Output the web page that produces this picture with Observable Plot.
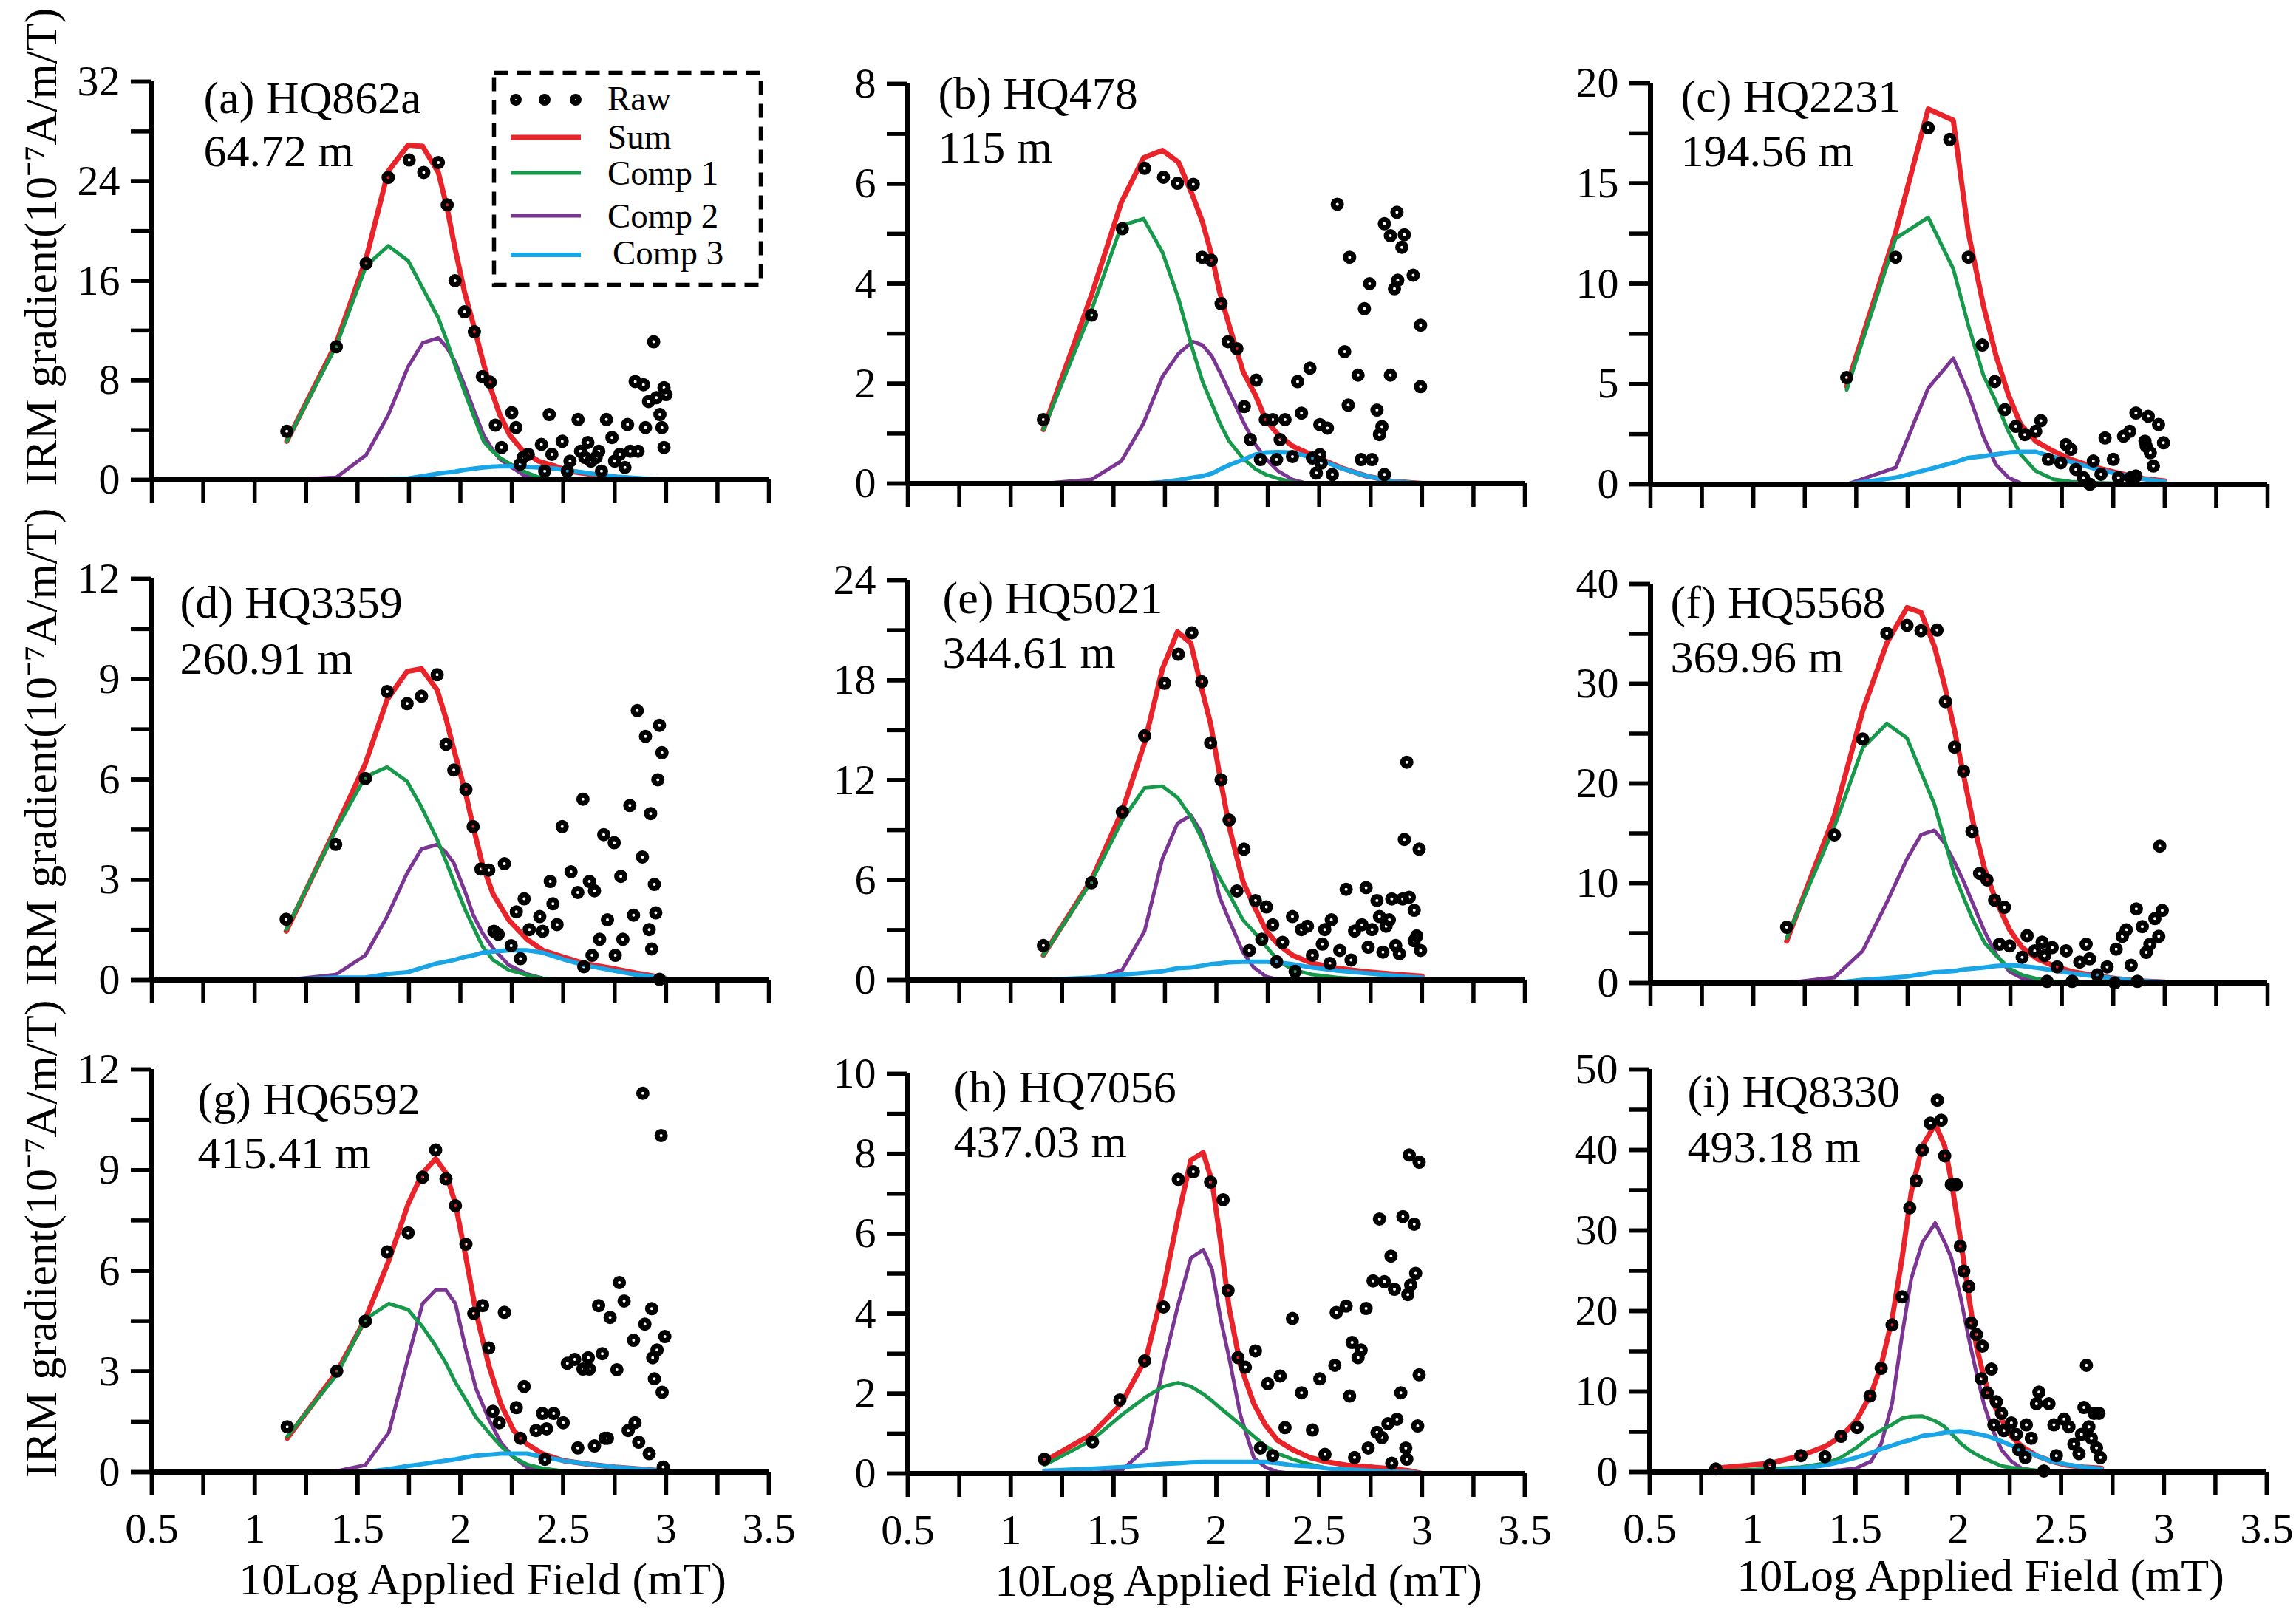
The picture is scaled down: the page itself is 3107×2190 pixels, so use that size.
<!DOCTYPE html>
<html><head><meta charset="utf-8">
<script src="https://cdn.jsdelivr.net/npm/d3@7"></script>
<script src="https://cdn.jsdelivr.net/npm/@observablehq/plot@0.6"></script>
<style>
html,body{margin:0;padding:0;background:#fff;}
#wrap{position:relative;width:3107px;height:2190px;overflow:hidden;background:#fff;}
#wrap > svg{position:absolute;}
</style></head><body><div id="wrap"></div>
<script>
// ---------- data (x = log10 field in mT, y = IRM gradient, 1e-7 A/m/T) ----------
const rawA = [[1.156,3.9],[1.397,10.7],[1.542,17.4],[1.649,24.3],[1.751,25.7],[1.822,24.7],[1.893,25.5],[1.936,22.1],[1.974,16.0],[2.020,13.5],[2.068,11.9],[2.107,8.3],[2.145,7.85],[2.17,4.4],[2.20,2.6],[2.25,5.4],[2.27,4.2],[2.29,1.25],[2.305,1.8],[2.33,2.05],[2.394,2.85],[2.41,0.7],[2.432,5.25],[2.445,2.05],[2.495,3.1],[2.52,0.7],[2.533,1.5],[2.572,4.85],[2.584,2.3],[2.605,1.8],[2.62,3.0],[2.635,1.5],[2.66,1.8],[2.673,2.3],[2.686,0.7],[2.71,4.85],[2.737,3.4],[2.75,1.5],[2.775,2.05],[2.80,1.0],[2.813,4.45],[2.826,2.3],[2.85,7.9],[2.864,2.3],[2.89,7.65],[2.90,4.2],[2.915,6.3],[2.94,11.1],[2.953,6.6],[2.97,5.25],[2.98,4.2],[2.99,7.4],[2.99,2.6],[3.0,6.85]];
const fitXA = [1.156,1.397,1.542,1.649,1.746,1.817,1.893,1.936,1.974,2.02,2.068,2.113,2.15,2.19,2.24,2.305,2.38,2.46,2.53,2.635,2.76,2.89,3.0];
const sumA = [3.1,11.0,17.8,24.8,26.9,26.8,24.7,21.8,18.6,15.1,12.2,9.3,7.2,5.3,3.6,2.3,1.5,1.1,0.7,0.45,0.2,0.05,0];
const c1A  = [3.1,10.8,17.2,18.8,17.6,15.4,13.0,11.1,9.2,7.1,5.0,3.1,2.4,1.8,1.3,0.7,0.2,0.05,0,0,0,0,0];
const c2A  = [0,0.2,2.0,5.2,9.1,11.0,11.4,10.6,9.5,7.6,5.5,3.6,2.6,1.7,1.1,0.4,0.05,0,0,0,0,0,0];
const c3A  = [0,0,0,0.05,0.1,0.3,0.5,0.6,0.65,0.8,0.9,1.0,1.05,1.08,1.1,1.05,1.0,0.9,0.75,0.5,0.25,0.1,0];

const rawB = [[1.159,1.28],[1.393,3.37],[1.543,5.10],[1.651,6.31],[1.743,6.13],[1.811,6.01],[1.888,5.99],[1.931,4.53],[1.975,4.47],[2.023,3.60],[2.057,2.84],[2.10,2.70],[2.194,2.07],[2.136,1.54],[2.165,0.88],[2.238,1.28],[2.274,1.28],[2.31,0.88],[2.334,1.28],[2.395,2.04],[2.414,1.41],[2.455,2.31],[2.503,1.18],[2.54,1.11],[2.588,5.59],[2.624,2.64],[2.648,4.53],[2.641,1.57],[2.689,2.17],[2.72,3.50],[2.745,4.00],[2.781,1.47],[2.793,0.98],[2.805,1.14],[2.817,5.20],[2.846,4.96],[2.846,2.17],[2.866,3.90],[2.878,5.43],[2.882,4.07],[2.902,4.73],[2.914,4.98],[2.957,4.17],[2.993,3.17],[2.993,1.94],[2.214,0.48],[2.293,0.48],[2.37,0.54],[2.467,0.51],[2.503,0.58],[2.486,0.21],[2.564,0.18],[2.704,0.48],[2.757,0.48],[2.817,0.18],[2.51,0.41]];
const fitXB = [1.159,1.393,1.538,1.646,1.738,1.816,1.885,1.933,1.978,2.016,2.062,2.13,2.19,2.24,2.30,2.37,2.44,2.52,2.61,2.73,2.85,3.0];
const sumB = [1.08,3.77,5.63,6.52,6.67,6.43,5.76,5.23,4.56,3.83,3.17,2.24,1.77,1.28,0.98,0.75,0.62,0.47,0.31,0.15,0.05,0];
const c1B  = [1.08,3.47,5.16,5.30,4.63,3.70,2.68,2.04,1.6,1.22,0.85,0.5,0.29,0.18,0.1,0.03,0,0,0,0,0,0];
const c2B  = [0,0.08,0.45,1.21,2.14,2.60,2.84,2.77,2.55,2.24,1.84,1.24,0.78,0.5,0.25,0.08,0,0,0,0,0,0];
const c3B  = [0,0,0,0,0.03,0.07,0.12,0.15,0.2,0.28,0.37,0.48,0.58,0.62,0.63,0.62,0.55,0.45,0.3,0.15,0.05,0];

const rawC = [[1.454,5.32],[1.692,11.32],[1.85,17.77],[1.955,17.19],[2.045,11.32],[2.113,6.94],[2.174,5.12],[2.223,3.72],[2.276,2.89],[2.32,2.48],[2.373,2.64],[2.398,3.17],[2.434,1.24],[2.495,1.07],[2.52,1.98],[2.544,1.74],[2.568,0.74],[2.605,0.33],[2.636,0],[2.653,1.16],[2.69,0.5],[2.71,2.31],[2.75,1.24],[2.775,0.33],[2.80,2.40],[2.83,2.64],[2.86,3.55],[2.86,0.41],[2.904,2.15],[2.91,1.90],[2.92,3.39],[2.93,1.57],[2.945,0.91],[2.97,2.98],[2.994,2.07],[2.836,0.33]];
const fitXC = [1.454,1.692,1.85,1.972,2.045,2.118,2.179,2.24,2.30,2.373,2.459,2.544,2.641,2.763,2.884,3.0];
const sumC = [4.88,12.56,18.71,18.15,12.56,8.93,6.45,4.46,2.98,2.15,1.65,1.24,0.91,0.58,0.30,0.17];
const c1C  = [4.71,12.26,13.3,10.74,7.93,5.45,4.13,2.64,1.49,0.66,0.25,0.13,0.08,0.05,0.02,0];
const c2C  = [0,0.83,4.79,6.28,4.55,2.4,0.99,0.33,0.05,0,0,0,0,0,0,0];
const c3C  = [0,0.33,0.74,1.07,1.32,1.40,1.49,1.58,1.62,1.62,1.36,1.12,0.83,0.53,0.28,0.13];

const rawD = [[1.153,1.82],[1.394,4.06],[1.538,6.03],[1.644,8.63],[1.741,8.27],[1.811,8.49],[1.887,9.13],[1.93,7.05],[1.968,6.28],[2.027,5.70],[2.062,4.59],[2.10,3.32],[2.138,3.29],[2.214,3.48],[2.163,1.46],[2.184,1.37],[2.247,1.03],[2.272,2.04],[2.292,0.64],[2.31,2.43],[2.335,1.51],[2.386,1.90],[2.40,1.46],[2.437,2.95],[2.45,2.28],[2.47,1.66],[2.495,4.59],[2.538,3.24],[2.571,2.62],[2.596,5.41],[2.627,2.95],[2.652,2.67],[2.64,0.74],[2.677,1.22],[2.697,4.35],[2.715,1.80],[2.748,4.11],[2.753,0.74],[2.78,3.10],[2.79,1.22],[2.824,5.22],[2.842,1.94],[2.86,8.06],[2.885,3.68],[2.90,7.29],[2.918,1.51],[2.925,4.98],[2.93,0.93],[2.943,2.86],[2.95,2.01],[2.96,5.99],[2.968,7.62],[2.98,6.80],[2.968,0.02],[2.60,0.40]];
const fitXD = [1.153,1.394,1.538,1.644,1.741,1.811,1.887,1.93,1.968,2.027,2.062,2.108,2.159,2.235,2.324,2.40,2.50,2.60,2.727,2.853,2.99];
const sumD = [1.46,4.54,6.47,8.39,9.23,9.31,8.68,7.82,6.90,5.55,4.59,3.44,2.57,1.80,1.22,0.89,0.69,0.50,0.36,0.21,0.07];
const c1D  = [1.51,4.49,6.08,6.37,5.94,5.17,4.21,3.55,2.95,2.05,1.6,1.0,0.6,0.3,0.15,0.05,0,0,0,0,0];
const c2D  = [0,0.16,0.74,1.90,3.20,3.92,4.05,3.82,3.5,2.57,1.95,1.4,0.95,0.45,0.18,0.05,0,0,0,0,0];
const c3D  = [0,0.07,0.07,0.18,0.23,0.36,0.50,0.55,0.60,0.70,0.74,0.82,0.85,0.89,0.89,0.82,0.62,0.45,0.3,0.16,0.07];

const rawE = [[1.159,2.07],[1.393,5.84],[1.543,10.09],[1.651,14.67],[1.748,17.82],[1.815,19.56],[1.881,20.85],[1.929,17.91],[1.972,14.24],[2.023,12.02],[2.062,9.60],[2.134,7.86],[2.10,5.35],[2.19,4.77],[2.243,4.39],[2.16,1.78],[2.221,2.45],[2.274,3.32],[2.293,1.10],[2.322,2.26],[2.37,3.81],[2.414,3.03],[2.443,3.23],[2.383,0.52],[2.467,1.49],[2.515,2.16],[2.527,3.03],[2.559,3.61],[2.552,1.00],[2.60,1.78],[2.631,5.45],[2.655,1.20],[2.672,2.94],[2.708,3.32],[2.728,5.55],[2.738,1.97],[2.757,3.03],[2.781,4.77],[2.793,3.81],[2.81,1.68],[2.825,3.23],[2.841,3.61],[2.853,4.87],[2.872,2.07],[2.89,1.58],[2.906,4.87],[2.926,13.08],[2.914,8.44],[2.938,4.97],[2.962,4.19],[2.974,2.65],[2.986,7.86],[2.993,1.78],[2.962,2.36]];
const fitXE = [1.159,1.393,1.543,1.651,1.738,1.811,1.876,1.924,1.972,2.016,2.062,2.129,2.182,2.243,2.298,2.37,2.467,2.588,2.708,2.853,3.0];
const sumE = [1.49,6.03,10.18,14.24,18.69,20.91,20.23,17.72,15.40,12.31,9.22,5.93,4.48,2.94,2.16,1.49,1.00,0.71,0.52,0.37,0.23];
const c1E  = [1.49,5.93,9.60,11.54,11.63,10.96,9.80,8.64,7.29,6.13,5.16,3.61,2.9,2.0,1.20,0.62,0.33,0.14,0.04,0.02,0];
const c2E  = [0,0,0.62,2.94,7.29,9.41,9.89,8.93,7.29,4.97,3.61,1.68,0.75,0.2,0.03,0,0,0,0,0,0];
const c3E  = [0,0.14,0.33,0.43,0.52,0.71,0.75,0.85,0.95,1.0,1.06,1.10,1.10,1.10,1.06,0.95,0.75,0.56,0.43,0.28,0.14];

const rawF = [[1.162,5.59],[1.394,14.86],[1.532,24.46],[1.649,35.06],[1.747,35.86],[1.815,35.32],[1.893,35.38],[1.934,28.21],[1.978,23.65],[2.022,21.23],[2.063,15.19],[2.10,10.99],[2.136,10.34],[2.173,8.30],[2.221,7.59],[2.197,3.88],[2.246,3.72],[2.307,2.58],[2.331,4.75],[2.368,3.23],[2.404,4.10],[2.416,2.75],[2.428,0.16],[2.453,3.55],[2.477,1.62],[2.521,3.23],[2.55,0.16],[2.587,2.10],[2.618,3.88],[2.635,2.42],[2.672,0.81],[2.72,1.62],[2.757,0],[2.764,3.39],[2.794,4.68],[2.813,5.33],[2.837,1.78],[2.862,7.43],[2.867,0.16],[2.891,5.65],[2.91,3.07],[2.928,3.88],[2.952,6.46],[2.971,4.68],[2.976,13.73],[2.988,7.27]];
const fitXF = [1.162,1.394,1.532,1.649,1.747,1.815,1.88,1.929,1.978,2.022,2.068,2.124,2.18,2.246,2.307,2.38,2.453,2.55,2.672,2.769,2.867,3.0];
const sumF = [4.20,16.80,27.30,34.09,37.64,37.16,33.76,29.89,25.36,20.84,16.16,11.47,8.24,5.33,3.55,2.42,1.78,1.13,0.71,0.42,0.23,0.10];
const c1F  = [4.52,15.67,23.59,26.01,24.56,21.16,17.93,14.38,10.82,8.56,6.30,4.04,2.75,1.45,0.81,0.42,0.16,0.05,0,0,0,0];
const c2F  = [0,0.55,3.23,8.08,12.44,14.86,15.3,14.05,12.12,10.18,7.92,5.17,2.91,1.13,0.48,0.06,0,0,0,0,0,0];
const c3F  = [0,0,0.32,0.48,0.65,0.87,1.07,1.13,1.20,1.35,1.45,1.55,1.71,1.78,1.71,1.52,1.29,0.97,0.65,0.42,0.23,0.10];

const rawG = [[1.158,1.35],[1.399,3.01],[1.538,4.50],[1.644,6.56],[1.746,7.13],[1.816,8.79],[1.880,9.60],[1.930,8.74],[1.976,7.94],[2.027,6.79],[2.065,4.73],[2.108,4.96],[2.214,4.76],[2.138,3.70],[2.158,1.81],[2.189,1.47],[2.272,1.92],[2.31,2.55],[2.292,1.01],[2.368,1.24],[2.399,1.75],[2.419,1.29],[2.454,1.75],[2.50,1.47],[2.411,0.38],[2.52,3.24],[2.556,3.36],[2.596,3.07],[2.622,3.41],[2.627,3.07],[2.69,3.53],[2.571,0.72],[2.652,0.78],[2.672,4.96],[2.703,1.01],[2.715,1.01],[2.728,4.61],[2.761,3.05],[2.773,5.65],[2.796,5.10],[2.816,1.24],[2.842,3.93],[2.849,1.47],[2.867,0.89],[2.887,11.29],[2.897,4.41],[2.918,0.55],[2.93,4.87],[2.935,3.41],[2.943,2.78],[2.956,3.64],[2.976,10.03],[2.981,2.38],[2.994,4.04],[2.986,0.15]];
const fitXG = [1.158,1.399,1.538,1.652,1.746,1.816,1.88,1.93,1.976,2.027,2.075,2.138,2.196,2.259,2.323,2.399,2.50,2.627,2.753,2.88,3.0];
const sumG = [1.01,2.98,4.56,6.3,7.99,8.91,9.34,8.91,7.99,6.39,4.79,3.18,2.04,1.24,0.84,0.55,0.34,0.23,0.15,0.09,0.03];
const c1G  = [1.06,2.90,4.56,5.02,4.84,4.33,3.76,3.24,2.67,2.15,1.64,1.18,0.78,0.44,0.23,0.11,0.03,0,0,0,0];
const c2G  = [0,0.03,0.21,1.18,3.41,5.02,5.42,5.42,5.02,3.64,2.50,1.58,0.89,0.44,0.15,0.03,0,0,0,0,0];
const c3G  = [0,0,0,0.09,0.18,0.24,0.30,0.34,0.38,0.44,0.49,0.52,0.55,0.55,0.55,0.46,0.34,0.23,0.15,0.09,0.03];

const rawH = [[1.164,0.36],[1.398,0.79],[1.531,1.84],[1.651,2.82],[1.743,4.17],[1.815,7.36],[1.888,7.55],[1.972,7.29],[2.033,6.85],[2.057,4.58],[2.105,2.90],[2.141,2.66],[2.19,3.07],[2.214,0.64],[2.25,2.25],[2.274,0.45],[2.31,2.44],[2.334,1.15],[2.37,3.88],[2.414,2.02],[2.467,1.09],[2.503,2.37],[2.528,0.48],[2.576,2.71],[2.583,4.03],[2.631,4.19],[2.648,1.94],[2.66,3.28],[2.672,0.40],[2.689,2.90],[2.704,3.09],[2.728,4.13],[2.738,0.64],[2.762,4.82],[2.781,1.03],[2.793,6.37],[2.805,0.90],[2.817,4.80],[2.834,1.25],[2.849,5.44],[2.853,0.26],[2.866,4.61],[2.878,1.36],[2.897,2.02],[2.907,6.43],[2.921,0.64],[2.926,0.36],[2.931,4.48],[2.938,7.97],[2.945,4.72],[2.962,6.24],[2.969,5.01],[2.979,1.19],[2.986,7.79],[2.986,2.47]];
const fitXH = [1.164,1.393,1.538,1.659,1.743,1.815,1.876,1.936,1.979,2.021,2.062,2.117,2.182,2.238,2.298,2.37,2.455,2.54,2.636,2.757,2.853,2.938,3.0];
const sumH = [0.31,0.98,1.75,2.90,4.63,6.45,7.84,8.03,7.31,5.78,4.15,2.71,1.75,1.22,0.83,0.60,0.40,0.29,0.21,0.16,0.12,0.07,0];
const c1H  = [0.21,0.83,1.46,1.92,2.18,2.27,2.18,1.99,1.82,1.63,1.46,1.22,0.93,0.69,0.50,0.36,0.23,0.13,0.07,0.02,0,0,0];
const c2H  = [0,0.02,0.07,0.64,2.71,4.24,5.39,5.60,5.11,3.86,2.90,1.46,0.40,0.16,0.04,0,0,0,0,0,0,0,0];
const c3H  = [0.07,0.12,0.16,0.21,0.24,0.26,0.28,0.29,0.29,0.29,0.29,0.29,0.29,0.29,0.26,0.21,0.18,0.13,0.10,0.07,0.05,0.04,0];

const rawI = [[0.821,0.38],[1.084,0.86],[1.235,2.05],[1.352,1.91],[1.43,4.44],[1.508,5.53],[1.571,9.45],[1.625,12.88],[1.678,18.27],[1.727,21.76],[1.764,32.82],[1.795,36.16],[1.825,39.98],[1.864,43.32],[1.898,46.18],[1.917,43.70],[1.934,39.27],[1.966,35.69],[1.99,35.69],[2.01,28.05],[2.027,24.95],[2.051,23.04],[2.063,18.51],[2.088,17.08],[2.117,15.65],[2.161,12.79],[2.112,11.59],[2.141,9.83],[2.185,8.73],[2.21,7.30],[2.173,5.87],[2.222,5.15],[2.258,6.11],[2.282,4.68],[2.294,2.77],[2.331,5.87],[2.355,4.20],[2.38,8.49],[2.392,9.92],[2.441,8.49],[2.465,5.87],[2.477,2.05],[2.514,6.58],[2.538,5.63],[2.562,3.48],[2.587,2.29],[2.599,4.68],[2.611,8.02],[2.623,13.26],[2.635,5.63],[2.647,4.20],[2.66,7.30],[2.672,3.01],[2.684,7.30],[2.691,1.81],[2.416,0.14],[2.326,1.81]];
const fitXI = [0.821,1.089,1.235,1.357,1.43,1.503,1.576,1.625,1.678,1.727,1.771,1.825,1.888,1.934,1.966,2.01,2.051,2.088,2.124,2.161,2.21,2.258,2.307,2.38,2.453,2.526,2.611,2.696];
const sumI = [0.48,1.10,2.05,3.24,4.44,6.35,9.69,13.26,18.99,26.62,34.73,40.46,43.23,40.46,36.16,29.01,21.85,15.65,11.83,8.97,6.58,4.44,3.24,2.05,1.34,0.86,0.62,0.48];
const c1I  = [0.14,0.38,0.62,1.10,1.81,3.01,4.44,5.2,5.9,6.68,6.9,6.95,6.35,5.63,4.8,3.6,2.77,2.2,1.72,1.3,0.76,0.55,0.38,0.2,0.1,0.05,0.02,0];
const c2I  = [0,0,0.05,0.14,0.25,0.48,1.34,3.5,8.5,17.08,24.0,28.5,30.92,28.53,26.62,21.85,16.60,12.31,8.49,5.63,2.77,1.34,0.48,0.14,0,0,0,0];
const c3I  = [0,0.14,0.48,0.86,1.3,1.81,2.39,2.9,3.3,3.72,4.0,4.5,4.68,4.91,5.0,5.06,4.95,4.75,4.58,4.3,3.82,3.3,2.77,2.05,1.34,0.95,0.62,0.38];

const panelTitles = ["(a) HQ862a","(b) HQ478","(c) HQ2231","(d) HQ3359","(e) HQ5021","(f) HQ5568","(g) HQ6592","(h) HQ7056","(i) HQ8330"];
const panelDepths = ["64.72 m","115 m","194.56 m","260.91 m","344.61 m","369.96 m","415.41 m","437.03 m","493.18 m"];
const yMaxes     = [32, 8, 20, 12, 24, 40, 12, 10, 50];
const yMinorStep = [4, 1, 2.5, 1.5, 3, 5, 1.5, 1, 5];
const yLabelStep = [8, 2, 5, 3, 6, 10, 3, 2, 10];
const xTicks = [0.5,0.75,1,1.25,1.5,1.75,2,2.25,2.5,2.75,3,3.25,3.5];
const xLabelTicks = [0.5,1,1.5,2,2.5,3,3.5];
const seriesNames = ["Raw","Sum","Comp 1","Comp 2","Comp 3"];
const yTitle = "IRM gradient(10\u207B\u2077A/m/T)";
const xTitle = "10Log Applied Field (mT)";

// ---------- styling / layout ----------
const FONT = '"Liberation Serif","Times New Roman",serif';
const COL = {sum:"#e8232a", c1:"#16994a", c2:"#7b3592", c3:"#1aa6e6"};
const ML = 200, MR = 40, MT = 110, MB = 190, XW = 835;
const layout = [
  {ax:205,  top:110,  zero:649,  tdx:70, tdy:42, ddy:114},
  {ax:1228, top:113,  zero:654,  tdx:41, tdy:33, ddy:106},
  {ax:2233, top:112,  zero:655,  tdx:41, tdy:38, ddy:112},
  {ax:205,  top:783,  zero:1326, tdx:38, tdy:52, ddy:128},
  {ax:1228, top:785,  zero:1326, tdx:47, tdy:44, ddy:118},
  {ax:2233, top:790,  zero:1330, tdx:27, tdy:45, ddy:119},
  {ax:205,  top:1447, zero:1992, tdx:62, tdy:60, ddy:133},
  {ax:1228, top:1453, zero:1994, tdx:62, tdy:38, ddy:112},
  {ax:2232, top:1447, zero:1992, tdx:51, tdy:50, ddy:125}
];
const panelData = [
  [rawA, fitXA, sumA, c1A, c2A, c3A],[rawB, fitXB, sumB, c1B, c2B, c3B],[rawC, fitXC, sumC, c1C, c2C, c3C],
  [rawD, fitXD, sumD, c1D, c2D, c3D],[rawE, fitXE, sumE, c1E, c2E, c3E],[rawF, fitXF, sumF, c1F, c2F, c3F],
  [rawG, fitXG, sumG, c1G, c2G, c3G],[rawH, fitXH, sumH, c1H, c2H, c3H],[rawI, fitXI, sumI, c1I, c2I, c3I]
];

const wrap = document.getElementById("wrap");

panelData.forEach(([raw, fx, s, c1, c2, c3], k) => {
  const L = layout[k];
  const col = k % 3, row = Math.floor(k / 3);
  const fit = fx.map((x, i) => ({x, sum: s[i], c1: c1[i], c2: c2[i], c3: c3[i]}));
  const yMax = yMaxes[k];
  const yTicks = d3.range(0, yMax + yMinorStep[k] / 2, yMinorStep[k]);
  const yLabels = d3.range(0, yMax + yLabelStep[k] / 2, yLabelStep[k]);
  const H = MT + (L.zero - L.top) + MB;
  const marks = [
    Plot.line(fit, {x: "x", y: "sum", stroke: COL.sum, strokeWidth: 7}),
    Plot.line(fit, {x: "x", y: "c2", stroke: COL.c2, strokeWidth: 5}),
    Plot.line(fit, {x: "x", y: "c1", stroke: COL.c1, strokeWidth: 5}),
    Plot.line(fit, {x: "x", y: "c3", stroke: COL.c3, strokeWidth: 6}),
    Plot.dot(raw, {x: d => d[0], y: d => d[1], r: 5.5, stroke: "black", strokeWidth: 7, fill: "none"}),
    Plot.ruleY([0], {x1: 0.5, x2: 3.5, strokeWidth: 7, stroke: "black"}),
    Plot.ruleX([0.5], {y1: 0, y2: yMax, strokeWidth: 7, stroke: "black"}),
    Plot.axisX({ticks: xTicks, tickSize: 32, strokeWidth: 5.5, fill: "none", label: null}),
    Plot.axisY({ticks: yTicks, tickSize: 28, strokeWidth: 5.5, fill: "none", label: null}),
    Plot.axisY({ticks: yLabels, tickSize: 28, strokeWidth: 5.5, tickPadding: 15, fontSize: 58, label: null, tickFormat: d => String(d)}),
    Plot.text([panelTitles[k]], {text: d => d, frameAnchor: "top-left", textAnchor: "start", lineAnchor: "bottom", dx: L.tdx, dy: L.tdy, fontSize: 62}),
    Plot.text([panelDepths[k]], {text: d => d, frameAnchor: "top-left", textAnchor: "start", lineAnchor: "bottom", dx: L.tdx, dy: L.ddy, fontSize: 62})
  ];
  if (row === 2) {
    marks.push(Plot.axisX({ticks: xLabelTicks, tickSize: 32, strokeWidth: 5.5, tickPadding: 22, fontSize: 58, label: null, tickFormat: d => String(d)}));
    marks.push(Plot.text([xTitle], {text: d => d, frameAnchor: "bottom", textAnchor: "middle", lineAnchor: "bottom", dx: 30, dy: col === 2 ? 160 : 165, fontSize: 62}));
  }
  if (col === 0) marks.push(Plot.text([yTitle], {text: d => d, frameAnchor: "bottom-left", textAnchor: "start", lineAnchor: "middle", rotate: -90, dx: -149, dy: 8, fontSize: 62}));
  const svg = Plot.plot({
    width: ML + XW + MR, height: H,
    marginLeft: ML, marginRight: MR, marginTop: MT, marginBottom: MB,
    x: {domain: [0.5, 3.5]},
    y: {domain: [0, yMax]},
    style: {background: "transparent", overflow: "visible", fontFamily: FONT, fontSize: "58px", color: "black"},
    marks
  });
  svg.style.position = "absolute";
  svg.style.left = (L.ax - ML) + "px";
  svg.style.top = (L.top - MT) + "px";
  wrap.appendChild(svg);
});

// ---------- legend (panel a) ----------
const lg = d3.select(wrap).append("svg")
  .attr("width", 370).attr("height", 296)
  .style("position", "absolute").style("left", "664px").style("top", "94px")
  .style("font-family", FONT);
lg.append("rect").attr("x", 4.5).attr("y", 4.5).attr("width", 361).attr("height", 287)
  .attr("fill", "none").attr("stroke", "black").attr("stroke-width", 5.5).attr("stroke-dasharray", "19,12");
const lgY = [41, 92, 140, 198, 251];
const lgBase = [55, 107, 156, 214, 264];
const lgCol = [null, COL.sum, COL.c1, COL.c2, COL.c3];
const lgW = [null, 7, 5, 5, 6];
seriesNames.forEach((name, i) => {
  if (i === 0) {
    [34, 73, 115].forEach(cx => lg.append("circle").attr("cx", cx).attr("cy", lgY[0]).attr("r", 4.5)
      .attr("fill", "none").attr("stroke", "black").attr("stroke-width", 7));
  } else {
    lg.append("line").attr("x1", 27).attr("x2", 122).attr("y1", lgY[i]).attr("y2", lgY[i])
      .attr("stroke", lgCol[i]).attr("stroke-width", lgW[i]);
  }
  lg.append("text").attr("x", i === 4 ? 165 : 158).attr("y", lgBase[i]).attr("font-size", 47).text(name);
});
</script></body></html>
